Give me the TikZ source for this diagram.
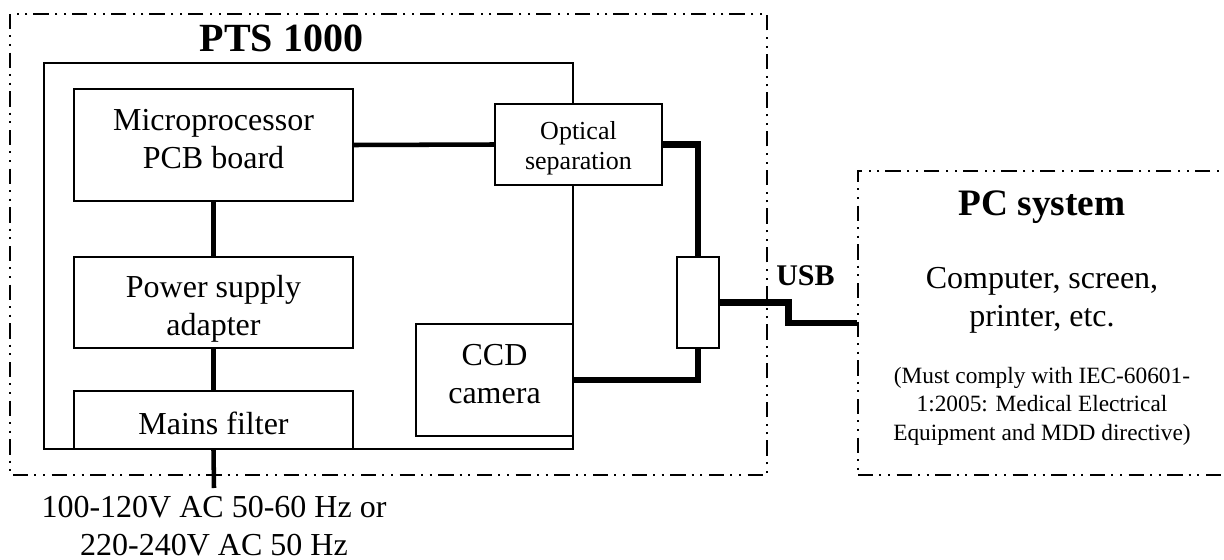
\documentclass[tikz,border=0pt]{standalone}
\usepackage{fontspec}
\setmainfont{Liberation Serif}
\usetikzlibrary{positioning}

\begin{document}
\begin{tikzpicture}[
  x=0.75pt,y=-0.75pt,
  blk/.style={draw,line width=1.2pt,fill=white,align=center,inner sep=0pt,
              text depth=0pt,font=\fontsize{24}{28.5}\selectfont},
  txt/.style={align=center,inner sep=0pt,font=\fontsize{24}{28.5}\selectfont},
  note/.style={align=center,inner sep=0pt,font=\fontsize{17.5}{21.4}\selectfont},
  hd/.style={inner sep=0pt,font=\bfseries},
  ddd/.style={draw,line width=1.3pt,
              dash pattern=on 11.5pt off 4.5pt on 1.5pt off 5pt on 1.5pt off 5pt},
  wire/.style={line width=3.4pt},
  bus/.style={line width=5.2pt}
]
\def\px{0.75pt}
\useasboundingbox (0,0) rectangle (1224,560);
% enclosures
\draw[ddd] (10,14) rectangle (767,475);
\draw[line width=1.5pt] (44,63) rectangle (573,449);
\node[hd,anchor=base,font=\fontsize{30}{36}\selectfont\bfseries] (ptstitle) at (281.5,52) {PTS 1000};
% blocks (text height sets where the last baseline sits)
\node[blk,minimum width=279*\px,minimum height=112*\px,text height=34.5pt]  (micro) at (213.5,145) {Microprocessor\\PCB board};
\node[blk,minimum width=279*\px,minimum height=91*\px,text height=50pt]     (power) at (213.5,302.5) {Power supply\\adapter};
\node[blk,minimum width=279*\px,minimum height=58*\px,text height=21pt]     (mains) at (213.5,420) {Mains filter};
\node[blk,minimum width=167*\px,minimum height=81*\px,text height=36.75pt,
      font=\fontsize{19.5}{22.5}\selectfont] (optical) at (578.5,144.5) {Optical\\separation};
\node[blk,minimum width=42*\px,minimum height=91*\px]                       (usbport) at (698,302.5) {};
\node[blk,minimum width=157*\px,minimum height=112*\px,text height=34.5pt]  (ccd) at (494.5,380) {CCD\\camera};
% pc side
\node[ddd,minimum width=372*\px,minimum height=304*\px] (pc) at (1044,323) {};
\node[hd,anchor=base,font=\fontsize{28}{34}\selectfont\bfseries] (pctitle) at (1042,215) {PC system};
\node[txt] (pcdesc) at (1042,300) {Computer, screen,\\printer, etc.};
\node[note] (pcnote) at (1042,406) {(Must comply with IEC-60601-\\1:2005: Medical Electrical\\Equipment and MDD directive)};
\node[hd,anchor=base west,font=\fontsize{22.5}{27}\selectfont\bfseries] (usb) at (776,285) {USB};
% mains input
\coordinate (mainsin) at (214,488);
\node[txt] (supply) at (214,526) {100-120V AC 50-60 Hz or\\220-240V AC 50 Hz};
% wiring
\draw[wire] (micro.east) -- (optical.west);
\draw[wire] (micro.south) -- (power.north);
\draw[wire] (power.south) -- (mains.north);
\draw[wire] (mains.south) -- (mainsin);
\draw[bus] (optical.east) -| (usbport.north);
\draw[bus] (ccd.east) -| (usbport.south);
\draw[bus] (usbport.east) -- ++(69,0) |- (pc.west);
\end{tikzpicture}
\end{document}
